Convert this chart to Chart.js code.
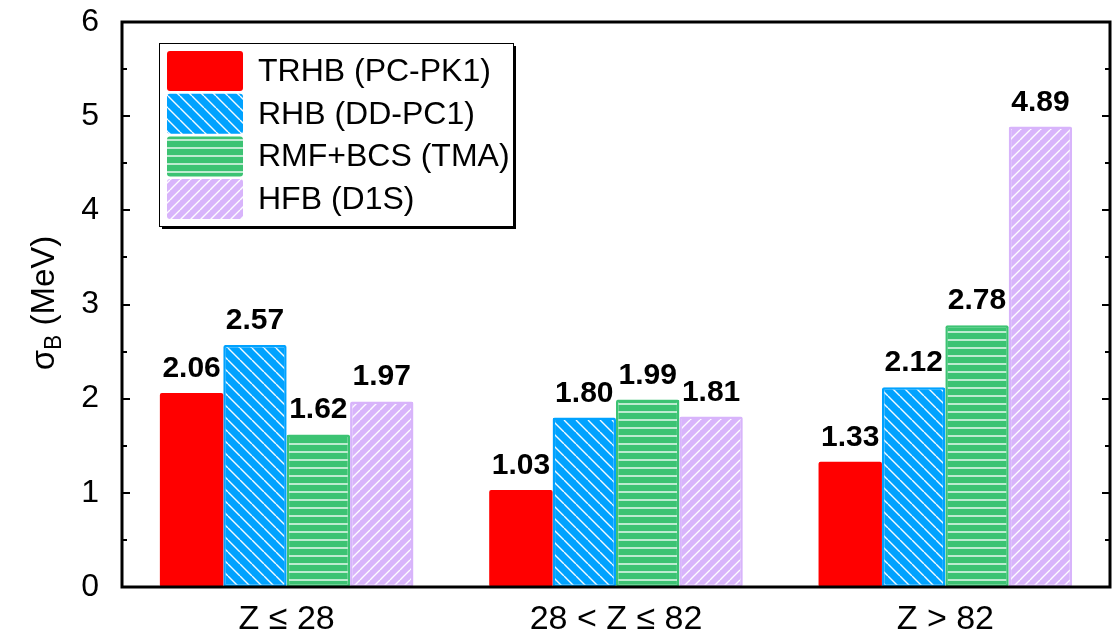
<!DOCTYPE html>
<html>
<head>
<meta charset="utf-8">
<script src="https://cdn.jsdelivr.net/npm/chart.js@4.4.0/dist/chart.umd.min.js"></script>
<style>
  html, body { margin: 0; padding: 0; background: #fff; }
  #wrap { width: 1113px; height: 638px; }
</style>
</head>
<body>
<div id="wrap"><canvas id="c" width="1113" height="638"></canvas></div>
<script>
const categories = ['Z \u2264 28', '28 < Z \u2264 82', 'Z > 82'];
const seriesNames = ['TRHB (PC-PK1)', 'RHB (DD-PC1)', 'RMF+BCS (TMA)', 'HFB (D1S)'];
const trhb = [2.06, 1.03, 1.33];
const rhb = [2.57, 1.80, 2.12];
const rmfBcs = [1.62, 1.99, 2.78];
const hfb = [1.97, 1.81, 4.89];
const yTicks = [0, 1, 2, 3, 4, 5, 6];

const canvas = document.getElementById('c');
const ctx = canvas.getContext('2d');

// hatch patterns: white lines on coloured ground
function hatch(color, kind, size) {
  const t = document.createElement('canvas');
  t.width = size; t.height = size;
  const g = t.getContext('2d');
  g.fillStyle = color;
  g.fillRect(0, 0, size, size);
  g.strokeStyle = 'rgba(255,255,255,0.95)';
  g.lineWidth = 1.4;
  g.beginPath();
  if (kind === 'h') {
    g.moveTo(0, size / 2); g.lineTo(size, size / 2);
  } else if (kind === 'back') {
    for (const o of [-size, 0, size]) { g.moveTo(o, 0); g.lineTo(o + size, size); }
  } else {
    for (const o of [-size, 0, size]) { g.moveTo(o, size); g.lineTo(o + size, 0); }
  }
  g.stroke();
  return ctx.createPattern(t, 'repeat');
}

const RED = '#ff0000', BLUE = '#00a2ff', GREEN = '#3cc373', PURPLE = '#d8b4fb';
const fills = [RED, hatch(BLUE, 'back', 12), hatch(GREEN, 'h', 8), hatch(PURPLE, 'fwd', 10)];
const edges = [RED, BLUE, GREEN, PURPLE];

const FONT = "'Liberation Sans', Arial, sans-serif";

const data = {
  labels: categories,
  datasets: [trhb, rhb, rmfBcs, hfb].map((vals, i) => ({
    label: seriesNames[i],
    data: vals,
    backgroundColor: fills[i],
    borderColor: edges[i],
    borderWidth: i === 0 ? 0 : 2.5,
    borderSkipped: false,
    borderRadius: 2,
    categoryPercentage: 0.77,
    barPercentage: 1.0
  }))
};

// frame, inward ticks, value labels, y title, legend
const decor = {
  id: 'decor',
  afterDatasetsDraw(chart) {
    const c = chart.ctx;
    const a = chart.chartArea;
    const y = chart.scales.y;

    // value labels
    c.save();
    c.fillStyle = '#000';
    c.font = 'bold 30px ' + FONT;
    c.textAlign = 'center';
    c.textBaseline = 'alphabetic';
    chart.data.datasets.forEach((ds, i) => {
      chart.getDatasetMeta(i).data.forEach((bar, j) => {
        c.fillText(ds.data[j].toFixed(2), bar.x, bar.y - 16);
      });
    });
    c.restore();

    // frame
    c.save();
    c.strokeStyle = '#000';
    c.lineWidth = 3;
    c.strokeRect(a.left, a.top, a.right - a.left, a.bottom - a.top);
    c.lineWidth = 2;
    c.beginPath();
    for (let v = 0; v <= 6; v += 0.5) {
      const py = Math.round(y.getPixelForValue(v));
      const len = Number.isInteger(v) ? 8 : 5;
      c.moveTo(a.left, py); c.lineTo(a.left + len, py);
      c.moveTo(a.right, py); c.lineTo(a.right - len, py);
    }
    c.stroke();
    c.restore();

    // y title with subscript
    c.save();
    c.translate(44, 303);
    c.rotate(-Math.PI / 2);
    c.fillStyle = '#000';
    c.textBaseline = 'alphabetic';
    c.textAlign = 'left';
    const big = '33px ' + FONT, small = '23px ' + FONT;
    c.font = big;
    const w1 = c.measureText('\u03c3').width;
    const w3 = c.measureText(' (MeV)').width;
    c.font = small;
    const w2 = c.measureText('B').width;
    let x0 = -(w1 + w2 + w3) / 2;
    c.font = big;
    c.fillText('\u03c3', x0, 10);
    c.font = small;
    c.fillText('B', x0 + w1, 17);
    c.font = big;
    c.fillText(' (MeV)', x0 + w1 + w2, 10);
    c.restore();

    // legend box
    c.save();
    const lx = a.left + 37, ly = a.top + 21, lw = 354, lh = 183;
    c.fillStyle = '#000';
    c.fillRect(lx + 3, ly + 3, lw, lh);
    c.fillStyle = '#fff';
    c.fillRect(lx, ly, lw, lh);
    c.strokeStyle = '#000';
    c.lineWidth = 1;
    c.strokeRect(lx + 0.5, ly + 0.5, lw, lh);
    c.font = '32px ' + FONT;
    c.textBaseline = 'middle';
    c.textAlign = 'left';
    chart.data.datasets.forEach((ds, i) => {
      const sy = ly + 8 + i * 42.7;
      c.fillStyle = ds.backgroundColor;
      c.beginPath();
      c.roundRect(lx + 8, sy, 76, 40, 3);
      c.fill();
      c.fillStyle = '#000';
      c.fillText(ds.label, lx + 99, sy + 21);
    });
    c.restore();
  }
};

const config = {
  type: 'bar',
  data: data,
  options: {
    responsive: false,
    animation: false,
    layout: { padding: { top: 22, right: 3, left: 0, bottom: 0 } },
    plugins: {
      legend: { display: false },
      tooltip: { enabled: false }
    },
    scales: {
      x: {
        grid: { display: false },
        border: { display: false },
        ticks: { color: '#000', font: { size: 34, family: FONT }, padding: 4 },
        afterFit(s) { s.height = 51; s.paddingLeft = 0; s.paddingRight = 0; }
      },
      y: {
        min: 0,
        max: 6,
        afterBuildTicks(s) { s.ticks = yTicks.map(v => ({ value: v })); },
        grid: { display: false },
        border: { display: false },
        ticks: { color: '#000', font: { size: 32, family: FONT }, padding: 15 },
        afterFit(s) { s.width = 122; s.paddingTop = 0; s.paddingBottom = 0; }
      }
    }
  },
  plugins: [decor]
};

const myChart = new Chart(canvas, config);
</script>
</body>
</html>
